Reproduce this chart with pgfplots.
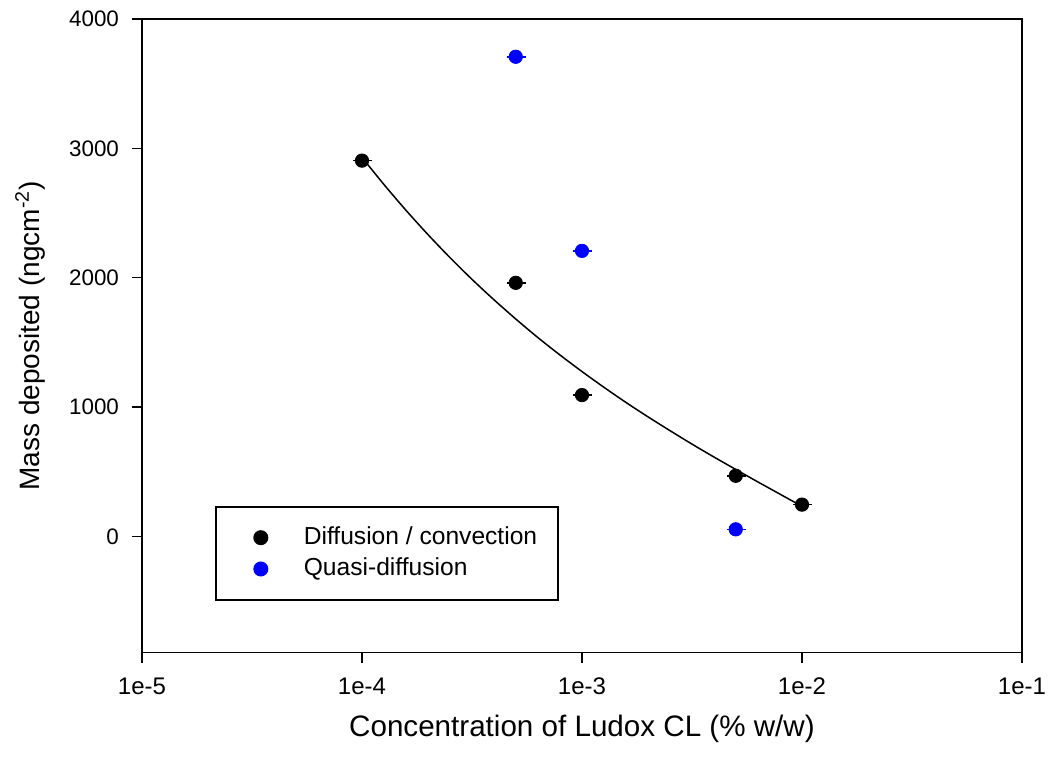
\documentclass[border=0pt]{standalone}
\usepackage{pgfplots}
\usepackage{pgfplotstable}
\pgfplotsset{compat=1.18}
\usepackage{fontspec}
\setmainfont{Liberation Sans}
\definecolor{qblue}{RGB}{0,0,255}

% Measured deposition, with horizontal error bars on concentration
\pgfplotstableread{
x      y     ep      em
1e-4   2905  1.1e-5  8.5e-6
5e-4   1960  5.5e-5  4.25e-5
1e-3   1092  1.1e-4  8.5e-5
5e-3   468   5.5e-4  4.25e-4
1e-2   245   1.1e-3  8.5e-4
}\diffconv

\pgfplotstableread{
x      y     ep      em
5e-4   3708  5.5e-5  4.25e-5
1e-3   2207  1.1e-4  8.5e-5
5e-3   54    5.5e-4  4.25e-4
}\quasidiff

% Fitted curve through the diffusion / convection data
\pgfplotstableread{
x          y
1e-4       2930
1.2589e-4  2720
1.5849e-4  2521
1.9953e-4  2333
2.5119e-4  2155
3.1623e-4  1987
3.9811e-4  1829
5.0119e-4  1679
6.3096e-4  1536
7.9433e-4  1402
1e-3       1274
1.2589e-3  1152
1.5849e-3  1035
1.9953e-3  924
2.5119e-3  817
3.1623e-3  713
3.9811e-3  613
5.0119e-3  516
6.3096e-3  420
7.9433e-3  326
1e-2       232
}\fitcurve

\begin{document}
\begin{tikzpicture}
\useasboundingbox (0,0) rectangle (527.5pt,380pt);
\begin{axis}[
  at={(71pt,53.65pt)}, anchor=south west,
  scale only axis, width=440pt, height=316.85pt,
  xmode=log, xmin=1e-5, xmax=1e-1,
  ymin=-900, ymax=4000,
  xtick={1e-5,1e-4,1e-3,1e-2,1e-1},
  xticklabels={1e-5,1e-4,1e-3,1e-2,1e-1},
  ytick={0,1000,2000,3000,4000},
  xminorticks=false, yminorticks=false,
  xtick pos=bottom, ytick pos=left,
  tick align=outside, major tick length=5pt,
  axis line style={line width=0.8pt},
  every tick/.style={black, line width=0.8pt},
  /pgf/number format/assume math mode=true,
  /pgf/number format/set thousands separator={},
  yticklabel style={font=\fontsize{11.2}{13}\selectfont, xshift=-3pt},
  xticklabel style={font=\fontsize{12}{14}\selectfont, yshift=-4pt},
  xlabel={Concentration of Ludox CL (\% w/w)},
  ylabel={Mass deposited (ngcm\textsuperscript{-2})},
  xlabel style={font=\fontsize{14.8}{17}\selectfont,
    at={(axis description cs:0.5,-0.12)}, anchor=center},
  ylabel style={font=\fontsize{14}{16}\selectfont,
    at={(axis description cs:-0.127,0.5)}, anchor=center},
  legend cell align=left,
  legend image code/.code={
    \path[draw=none, fill=none] (0pt,-1pt) rectangle (25pt,1pt);
    \draw[#1] plot coordinates {(16pt,0pt)};
  },
  legend style={
    at={(rel axis cs:0.083,0.2315)}, anchor=north west,
    draw=black, line width=0.8pt, fill=white,
    inner xsep=6.5pt, inner ysep=7.7pt,
    column sep=8.5pt, row sep=0.15pt,
    font=\fontsize{12.3}{14}\selectfont,
    nodes={text height=9pt, text depth=2.5pt, inner ysep=2pt, inner xsep=4pt},
  },
]
\addplot[black, line width=0.75pt, smooth, forget plot] table[x=x, y=y] {\fitcurve};

\addplot[only marks, mark=*, mark size=3.35pt, black,
  error bars/.cd, x dir=both, x explicit, error mark=none,
  error bar style={line width=0.8pt, black}]
  table[x=x, y=y, x error plus=ep, x error minus=em] {\diffconv};
\addlegendentry{Diffusion / convection}

\addplot[only marks, mark=*, mark size=3.35pt, qblue,
  error bars/.cd, x dir=both, x explicit, error mark=none,
  error bar style={line width=0.8pt, qblue}]
  table[x=x, y=y, x error plus=ep, x error minus=em] {\quasidiff};
\addlegendentry{Quasi-diffusion}
\end{axis}
\end{tikzpicture}
\end{document}
